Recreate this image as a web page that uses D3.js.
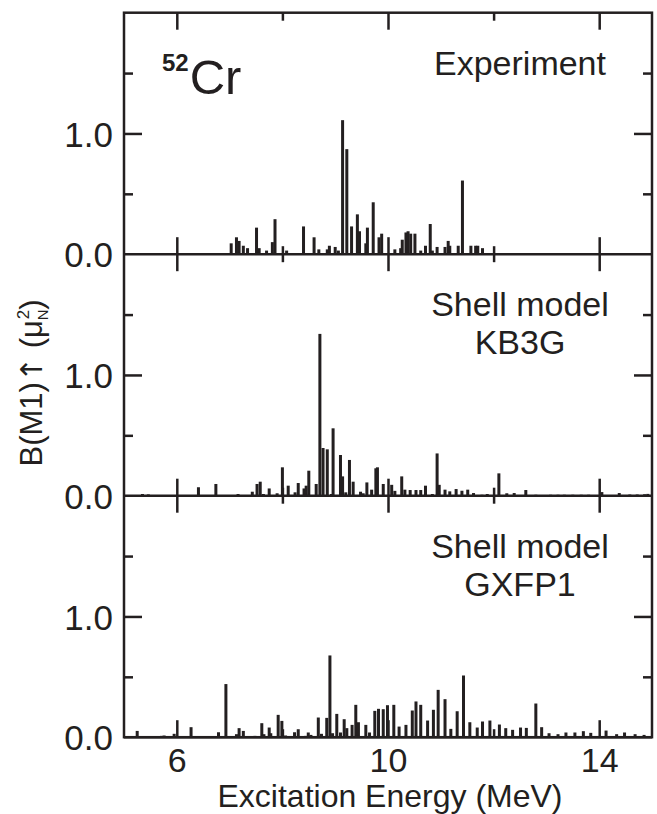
<!DOCTYPE html>
<meta charset="utf-8">
<html>
<head>
<style>
  body { margin: 0; background: #fff; }
  text { font-family: "Liberation Sans", Arial, sans-serif; fill: #231f20; }
  .tick line { stroke: #231f20; stroke-width: 2.5; }
</style>
</head>
<body>
<div id="chart"></div>
<script src="https://d3js.org/d3.v7.min.js"></script>
<script>
  // [excitation energy (MeV), B(M1) up (mu_N^2)]
  var expLevels = [[7.03,0.09],[7.13,0.14],[7.18,0.11],[7.26,0.07],[7.34,0.05],[7.51,0.22],[7.56,0.05],
    [7.70,0.03],[7.81,0.10],[7.86,0.29],[8.08,0.03],[8.40,0.23],[8.60,0.14],[8.69,0.04],[8.85,0.04],
    [8.89,0.07],[9.00,0.06],[9.06,0.03],[9.14,1.11],[9.22,0.87],[9.31,0.23],[9.42,0.33],[9.46,0.19],
    [9.58,0.09],[9.61,0.22],[9.72,0.43],[9.83,0.14],[9.88,0.17],[10.13,0.04],[10.24,0.05],[10.27,0.12],
    [10.34,0.18],[10.38,0.19],[10.43,0.17],[10.51,0.17],[10.62,0.03],[10.71,0.07],[10.80,0.25],[10.84,0.03],
    [10.93,0.06],[11.08,0.06],[11.14,0.11],[11.17,0.07],[11.33,0.07],[11.41,0.61],[11.57,0.07],[11.66,0.07],
    [11.70,0.07],[11.79,0.05]];

  var kb3gLevels = [[5.35,0.014],[5.46,0.011],[6.41,0.07],[6.74,0.097],[7.16,0.014],[7.43,0.033],[7.52,0.097],
    [7.58,0.116],[7.64,0.014],[7.75,0.06],[7.90,0.02],[8.00,0.235],[8.11,0.083],[8.24,0.028],[8.30,0.105],
    [8.41,0.06],[8.45,0.083],[8.50,0.207],[8.64,0.097],[8.71,1.34],[8.77,0.395],[8.85,0.384],[8.93,0.014],
    [8.96,0.558],[9.10,0.337],[9.14,0.16],[9.20,0.028],[9.27,0.296],[9.34,0.116],[9.48,0.033],[9.53,0.02],
    [9.60,0.11],[9.69,0.05],[9.77,0.227],[9.80,0.235],[9.91,0.097],[10.07,0.09],[10.13,0.04],[10.26,0.16],
    [10.32,0.05],[10.42,0.047],[10.53,0.047],[10.62,0.047],[10.71,0.083],[10.84,0.014],[10.93,0.35],[10.97,0.09],
    [11.08,0.05],[11.17,0.036],[11.29,0.055],[11.40,0.041],[11.51,0.05],[11.62,0.022],[11.78,0.008],[11.88,0.014],
    [12.10,0.185],[12.25,0.02],[12.39,0.022],[12.61,0.047],[12.80,0.008],[13.08,0.008],[13.22,0.008],[13.34,0.008],
    [13.50,0.008],[13.66,0.008],[13.80,0.008],[14.05,0.03],[14.38,0.022],[14.58,0.01],[14.72,0.01],[14.86,0.012],
    [14.92,0.015]];

  var gxfp1Levels = [[5.25,0.052],[5.71,0.011],[5.76,0.014],[5.95,0.028],[6.27,0.083],[6.47,0.008],[6.60,0.005],
    [6.79,0.041],[6.93,0.44],[7.13,0.025],[7.18,0.075],[7.26,0.052],[7.48,0.011],[7.61,0.116],[7.65,0.025],
    [7.75,0.08],[7.78,0.033],[7.92,0.185],[7.99,0.135],[8.06,0.014],[8.23,0.041],[8.30,0.066],[8.44,0.011],
    [8.49,0.039],[8.54,0.019],[8.68,0.163],[8.74,0.028],[8.84,0.16],[8.90,0.677],[8.95,0.033],[9.03,0.193],
    [9.10,0.039],[9.17,0.149],[9.22,0.075],[9.32,0.102],[9.39,0.268],[9.44,0.124],[9.58,0.102],[9.65,0.039],
    [9.75,0.218],[9.82,0.235],[9.91,0.232],[9.99,0.265],[10.11,0.268],[10.21,0.088],[10.34,0.102],[10.46,0.221],
    [10.53,0.296],[10.62,0.268],[10.75,0.138],[10.86,0.227],[10.95,0.392],[11.08,0.315],[11.19,0.069],[11.31,0.215],
    [11.43,0.511],[11.55,0.124],[11.69,0.08],[11.79,0.13],[11.93,0.138],[12.11,0.105],[12.23,0.075],[12.36,0.061],
    [12.51,0.08],[12.62,0.077],[12.80,0.279],[12.91,0.083],[13.05,0.033],[13.22,0.025],[13.37,0.039],[13.54,0.039],
    [13.70,0.05],[13.84,0.036],[14.13,0.055],[14.33,0.025],[14.48,0.039],[14.68,0.025],[14.85,0.019]];

  var panelNames = [["Experiment"], ["Shell model", "KB3G"], ["Shell model", "GXFP1"]];
  var xMajor = [6, 10, 14];
  var xMinor = [8, 12];
  var yMajor = [1];
  var yMinor = [0.5, 1.5];
  var yLabels = [0, 1];

  var ink = "#231f20";
  var left = 124, right = 652, top0 = 12.7, panelH = 241.5;

  var svg = d3.select("#chart")
    .append("svg")
      .attr("width", 657)
      .attr("height", 814);

  var x = d3.scaleLinear().domain([5, 15]).range([left, right]);

  var panels = [expLevels, kb3gLevels, gxfp1Levels];

  panels.forEach(function(levels, i) {
    var pTop = top0 + i * panelH,
        pBot = pTop + panelH;
    var y = d3.scaleLinear().domain([0, 2]).range([pBot, pTop]);
    var g = svg.append("g");

    // bars
    g.selectAll("rect.bar")
      .data(levels)
      .enter()
      .append("rect")
        .attr("class", "bar")
        .attr("x", function(d) { return x(d[0]) - 1.5; })
        .attr("width", 3)
        .attr("y", function(d) { return y(d[1]); })
        .attr("height", function(d) { return y(0) - y(d[1]); })
        .attr("fill", ink);

    // inward ticks on all four sides
    function ticks(axis, vals, size, tr) {
      var a = g.append("g")
        .attr("transform", tr)
        .call(axis.tickValues(vals).tickSize(size).tickFormat(""));
      a.select(".domain").remove();
      a.selectAll("text").remove();
    }
    ticks(d3.axisBottom(x), xMajor, -17, "translate(0," + pBot + ")");
    ticks(d3.axisBottom(x), xMinor, -8, "translate(0," + pBot + ")");
    ticks(d3.axisTop(x), xMajor, -17, "translate(0," + pTop + ")");
    ticks(d3.axisTop(x), xMinor, -8, "translate(0," + pTop + ")");
    ticks(d3.axisLeft(y), yMajor, -18, "translate(" + left + ",0)");
    ticks(d3.axisLeft(y), yMinor, -9, "translate(" + left + ",0)");
    ticks(d3.axisRight(y), yMajor, -18, "translate(" + right + ",0)");
    ticks(d3.axisRight(y), yMinor, -9, "translate(" + right + ",0)");

    // y labels
    var yl = g.append("g")
      .attr("transform", "translate(" + left + ",0)")
      .call(d3.axisLeft(y).tickValues(yLabels).tickSize(0).tickPadding(11).tickFormat(d3.format(".1f")));
    yl.select(".domain").remove();
    yl.selectAll("text")
      .attr("font-size", 35)
      .attr("fill", ink)
      .attr("dy", "0.36em")
      .style("font-family", "'Liberation Sans', Arial, sans-serif");

    // baseline
    g.append("line")
      .attr("x1", left).attr("x2", right)
      .attr("y1", y(0)).attr("y2", y(0))
      .attr("stroke", ink).attr("stroke-width", 2.5);

    // panel title
    panelNames[i].forEach(function(t, k) {
      g.append("text")
        .attr("x", 520)
        .attr("y", pTop + 62 + k * 38)
        .attr("text-anchor", "middle")
        .attr("font-size", 34)
        .text(t);
    });

    if (i == panels.length - 1) {
      var xl = g.append("g")
        .attr("transform", "translate(0," + pBot + ")")
        .call(d3.axisBottom(x).tickValues(xMajor).tickSize(0).tickPadding(11));
      xl.select(".domain").remove();
      xl.selectAll("text")
        .attr("font-size", 34)
        .attr("fill", ink)
        .style("font-family", "'Liberation Sans', Arial, sans-serif");
    }
  });

  // outer frame
  svg.append("rect")
    .attr("x", left).attr("y", top0)
    .attr("width", right - left).attr("height", panelH * 3)
    .attr("fill", "none")
    .attr("stroke", ink)
    .attr("stroke-width", 2.5);

  // nucleus label
  var nuc = svg.append("text")
    .attr("x", 162).attr("y", 94);
  nuc.append("tspan")
    .attr("font-size", 24).attr("font-weight", "bold")
    .attr("dy", -23)
    .text("52");
  nuc.append("tspan")
    .attr("font-size", 49)
    .attr("dx", 1)
    .attr("dy", 23)
    .text("Cr");

  // axis titles
  svg.append("text")
    .attr("x", (left + right) / 2 + 2)
    .attr("y", 807)
    .attr("text-anchor", "middle")
    .attr("font-size", 32)
    .text("Excitation Energy (MeV)");

  var yt = svg.append("text")
    .attr("transform", "translate(42,383) rotate(-90)")
    .attr("text-anchor", "middle")
    .attr("font-size", 31);
  yt.append("tspan").text("B(M1)");
  yt.append("tspan").style("font-family", "'DejaVu Sans', sans-serif").attr("font-size", 30).text("\u2191");
  yt.append("tspan").text(" (\u03bc");
  yt.append("tspan").attr("font-size", 15).attr("dy", 6).text("N");
  yt.append("tspan").attr("font-size", 17).attr("dx", -10).attr("dy", -19).text("2");
  yt.append("tspan").attr("dy", 13).text(")");
</script>
</body>
</html>
